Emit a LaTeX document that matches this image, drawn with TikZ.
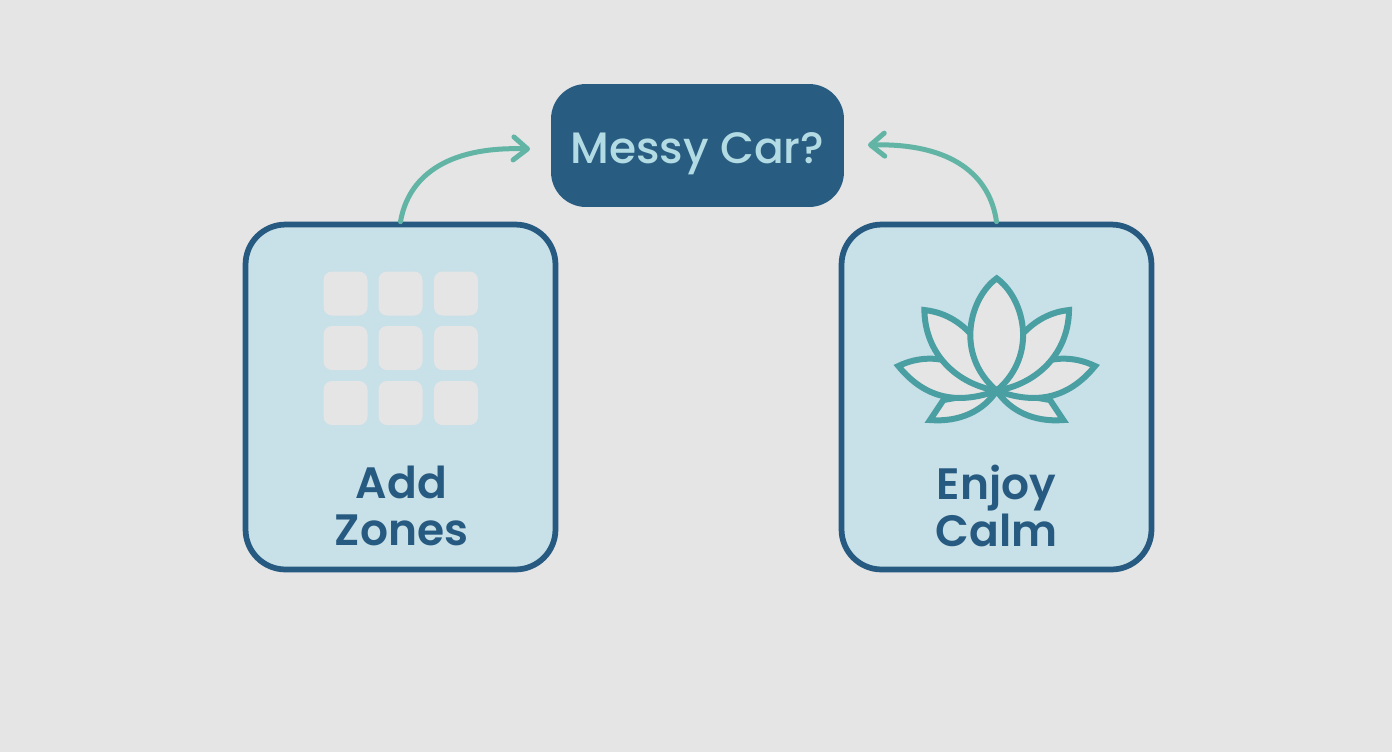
\documentclass[tikz,border=0pt]{standalone}
\usepackage{fontspec}
\usetikzlibrary{arrows.meta}
\newfontfamily\diagfont{Poppins SemiBold}
\newfontfamily\carfont{Poppins Medium}
\definecolor{bgrey}{HTML}{E5E5E6}
\definecolor{boxblue}{HTML}{C8E0E7}
\definecolor{navy}{HTML}{265A80}
\definecolor{carfill}{HTML}{285C80}
\definecolor{cartext}{HTML}{B3DBE4}
\definecolor{mint}{HTML}{62B5A5}
\definecolor{petalline}{HTML}{4A9FA3}
\definecolor{cellgrey}{HTML}{E6E5E6}
\tikzstyle{question}=[rectangle, rounded corners=0.7cm, fill=carfill, text=cartext, minimum width=5.86cm, minimum height=2.46cm, text height=0.9cm, text depth=0.2cm, font=\carfont\fontsize{25}{30}\selectfont]
\tikzstyle{panel}=[rectangle, rounded corners=0.8cm, draw=navy, fill=boxblue, line width=0.115cm, minimum width=6.2cm, minimum height=6.9cm]
\tikzstyle{caption}=[text=navy, align=center, font=\diagfont\fontsize{25}{27.2}\selectfont]
\tikzstyle{cell}=[rectangle, rounded corners=0.17cm, fill=cellgrey, minimum size=0.88cm, inner sep=0pt]
\tikzstyle{arrow}=[draw=mint, line width=0.1cm, line cap=round, -{Straight Barb[length=0.28cm, width=0.46cm, line width=0.1cm, round]}]
\tikzstyle{petal}=[draw=petalline, fill=cellgrey, line width=0.12cm, line join=miter]

\begin{document}
\begin{tikzpicture}[x=0.02cm, y=-0.02cm]
	\fill[bgrey] (0, 0) rectangle (1392, 752);
	\useasboundingbox (0, 0) rectangle (1392, 752);
	\begin{scope}
		\node (car) at (697.5, 145.5)[question] {Messy Car?};
		\node (zones) at (400.5, 397)[panel] {};
		\node (calm) at (996.5, 397)[panel] {};
		\node (zonestext) at (401.5, 506)[caption] {Add\\Zones};
		\node (calmtext) at (996.5, 506)[caption] {Enjoy\\Calm};
		\coordinate (carleft) at (530, 149);
		\coordinate (carright) at (868, 145);
	\end{scope}
	% grid of zones
	\foreach \col/\x in {1/345.5, 2/400.5, 3/456} {
		\foreach \row/\y in {1/293.5, 2/348, 3/403} {
			\node (cell\col\row) at (\x, \y)[cell] {};
		}
	}
	% lotus, one half and its mirror
	\begin{scope}[shift={(996.7, 390.7)}, x=0.00667cm, y=0.00667cm]
		\foreach \s in {1, -1} {
			\begin{scope}[xscale=\s]
				\draw[petal] (0, 0) .. controls (-40, -60) and (-110, -95) .. (-200, -88) -- (-160, -28) -- cycle;
				\draw[petal] (0, 0) .. controls (-110, -40) and (-210, -30) .. (-295, 74) .. controls (-230, 105) and (-170, 100) .. (-120, 80) -- cycle;
				\draw[petal] (0, 0) .. controls (-120, 20) and (-215, 110) .. (-217, 242) .. controls (-150, 235) and (-100, 200) .. (-60, 150) -- cycle;
			\end{scope}
		}
		\draw[petal] (0, 0) .. controls (-130, 112) and (-78, 282) .. (0, 337) .. controls (78, 282) and (130, 112) .. (0, 0) -- cycle;
	\end{scope}
	\begin{scope}
		\path [arrow] (zones.north) .. controls (408, 178) and (445, 146) .. (carleft);
		\path [arrow] (calm.north) .. controls (990, 176) and (953, 143) .. (carright);
	\end{scope}
\end{tikzpicture}
\end{document}
